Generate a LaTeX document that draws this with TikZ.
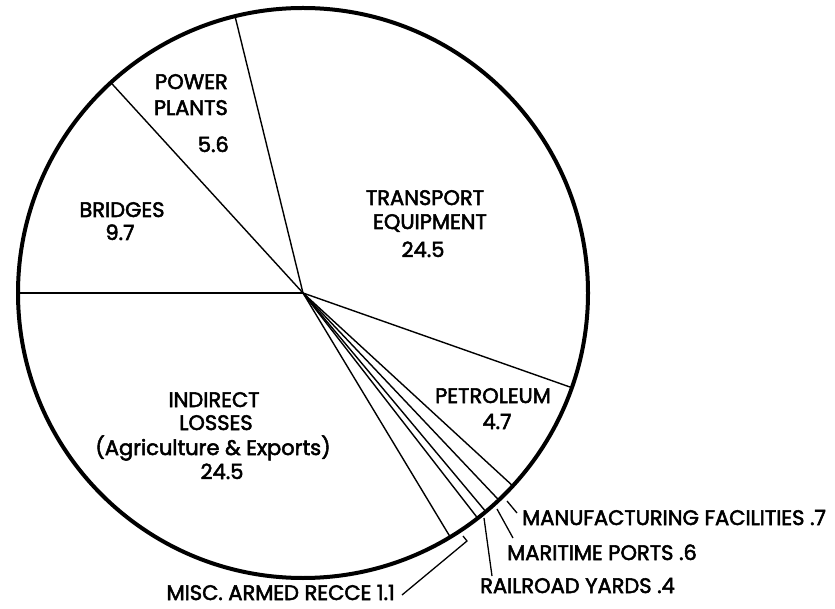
\documentclass[tikz,border=0pt]{standalone}
\usepackage{fontspec}
\setmainfont{Poppins}[FakeBold=2.5]
\begin{document}
\begin{tikzpicture}[x=1pt,y=-1pt,
  lbl/.style={font=\fontsize{21}{24}\selectfont, inner sep=0pt, anchor=base},
  radline/.style={line width=1.4pt},
  rim/.style={line width=4pt},
  leader/.style={line width=1.3pt}]
\useasboundingbox (0,0) rectangle (835,609);
\coordinate (c) at (303,293);
\foreach \a/\n in {180/a, 132.4/b, 103.8/cc, -19.4/d, -42.6/e, -46.6/f, -50.1/g, -52.2/h, -58.9/i}{
  \path (c) ++(-\a:285) coordinate (r\n);
  \draw[radline] (c) -- (r\n);
}
\draw[rim] (c) circle (285pt);
% slice labels
\node[lbl, anchor=base east] (pw1) at (228,89) {POWER};
\node[lbl, anchor=base east] (pw2) at (228,115) {PLANTS};
\node[lbl, anchor=base east] (pw3) at (229,152) {5.6};
\node[lbl] (br1) at (122,217) {BRIDGES};
\node[lbl] (br2) at (120,240) {9.7};
\node[lbl] (tr1) at (425,205) {TRANSPORT};
\node[lbl] (tr2) at (430,229) {EQUIPMENT};
\node[lbl] (tr3) at (423,257) {24.5};
\node[lbl] (pe1) at (493,403) {PETROLEUM};
\node[lbl] (pe2) at (497,429) {4.7};
\node[lbl] (in1) at (214,407) {INDIRECT};
\node[lbl] (in2) at (216,430) {LOSSES};
\node[lbl] (in3) at (213,455) {(Agriculture \& Exports)};
\node[lbl] (in4) at (222,479) {24.5};
% outside labels
\node[lbl, anchor=base west] (mf) at (522,525) {MANUFACTURING FACILITIES .7};
\node[lbl, anchor=base west] (mp) at (507,560) {MARITIME PORTS .6};
\node[lbl, anchor=base west] (rr) at (480,593) {RAILROAD YARDS .4};
\node[lbl, anchor=base east] (ms) at (395,600) {MISC. ARMED RECCE 1.1};
% leaders
\coordinate (mfa) at (507,501); \coordinate (mfb) at (517,513);
\coordinate (mpa) at (497,509); \coordinate (mpb) at (513,538);
\coordinate (rra) at (484,518); \coordinate (rrb) at (492,576);
\coordinate (msa) at (463,536); \coordinate (msk) at (467,541); \coordinate (msb) at (402,595);
\draw[leader] (mfa) -- (mfb);
\draw[leader] (mpa) -- (mpb);
\draw[leader] (rra) -- (rrb);
\draw[leader] (msa) -- (msk) -- (msb);
\end{tikzpicture}
\end{document}
